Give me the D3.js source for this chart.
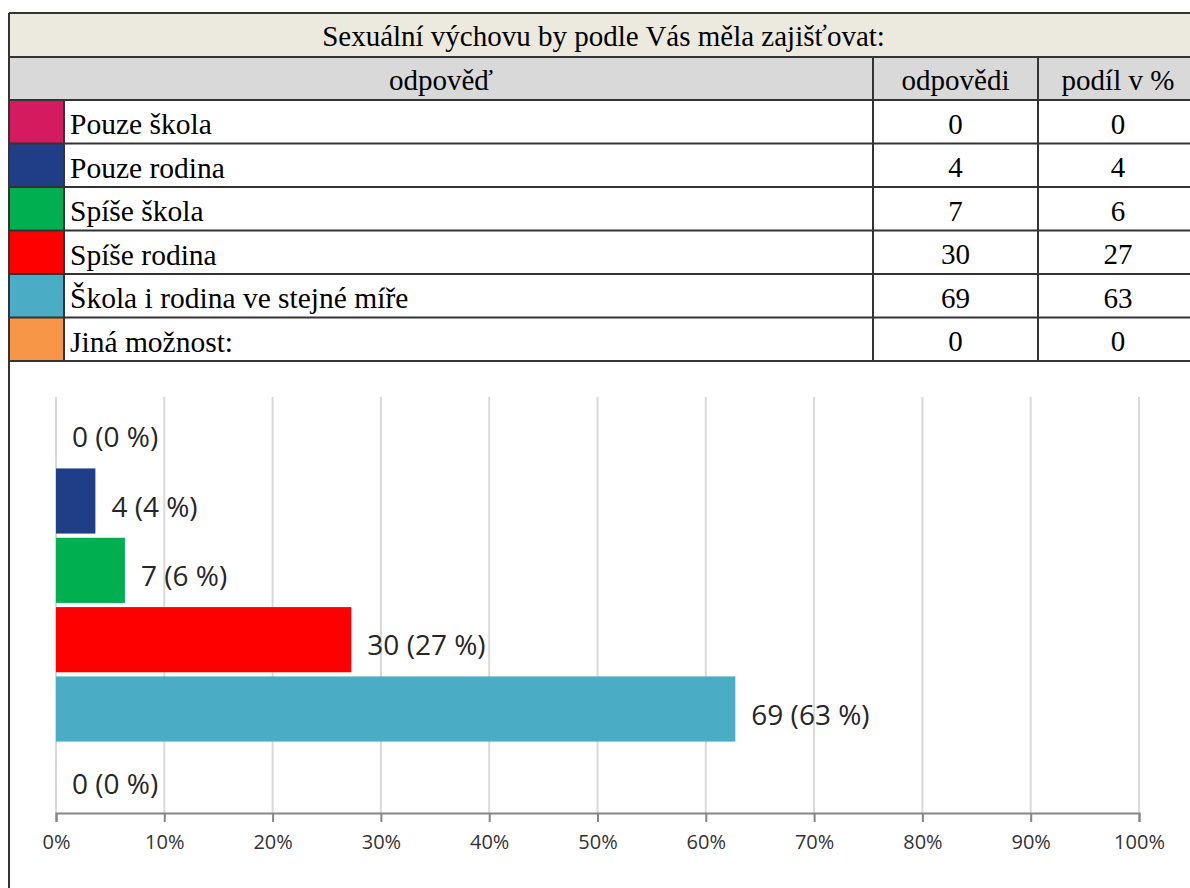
<!DOCTYPE html>
<html>
<head>
<meta charset="utf-8">
<script src="https://cdn.jsdelivr.net/npm/d3@7"></script>
<style>
  body { margin: 0; background: #fff; }
  .cell-text { font-family: "Liberation Serif", "Times New Roman", serif; fill: #000; }
  .lbl { font-family: "Open Sans", sans-serif; fill: #262626; }
  .x-axis text { font-family: "Open Sans", sans-serif; fill: #333; }
</style>
</head>
<body>
<div class="chart"></div>
<script>
// data
var titleText = 'Sexuální výchovu by podle Vás měla zajišťovat:';
var headers = ['odpověď', 'odpovědi', 'podíl v %'];
var categories = ['Pouze škola', 'Pouze rodina', 'Spíše škola', 'Spíše rodina', 'Škola i rodina ve stejné míře', 'Jiná možnost:'];
var colors = ['#D51B5F', '#1F3E87', '#00B050', '#FF0000', '#4BACC6', '#F79646'];
var counts = [0, 4, 7, 30, 69, 0];
var percents = [0, 4, 6, 27, 63, 0];
var xTicks = [0, 0.1, 0.2, 0.3, 0.4, 0.5, 0.6, 0.7, 0.8, 0.9, 1];

var W = 1190, H = 888;
var total = d3.sum(counts);

var rows = categories.map(function(c, i) {
	return {name: c, color: colors[i], count: counts[i], pct: percents[i], share: counts[i] / total};
});

var svg = d3.select('.chart').append('svg')
	.attr('width', W)
	.attr('height', H);

// ---- table ----
var tLeft = 9, tRight = 1198,
	colSwatch = 64, colCount = 873, colPct = 1038,
	titleTop = 13, headTop = 57, bodyTop = 100, bodyBottom = 361;

var rowY = d3.scaleBand()
	.domain(categories)
	.range([bodyTop, bodyBottom]);

var lineColor = '#333';

svg.append('rect')
	.attr('x', tLeft).attr('y', titleTop)
	.attr('width', tRight - tLeft).attr('height', headTop - titleTop)
	.attr('fill', '#ECE9DF');

svg.append('rect')
	.attr('x', tLeft).attr('y', headTop)
	.attr('width', tRight - tLeft).attr('height', bodyTop - headTop)
	.attr('fill', '#D9D9D9');

svg.append('text')
	.attr('class', 'cell-text')
	.attr('x', (tLeft + tRight) / 2)
	.attr('y', (titleTop + headTop) / 2)
	.attr('dy', '0.38em')
	.style('font-size', '29px')
	.style('text-anchor', 'middle')
	.text(titleText);

var headCenters = [(tLeft + colCount) / 2, (colCount + colPct) / 2, (colPct + tRight) / 2];
svg.selectAll('.head')
	.data(headers)
	.enter().append('text')
		.attr('class', 'cell-text head')
		.attr('x', function(d, i) { return headCenters[i]; })
		.attr('y', (headTop + bodyTop) / 2)
		.attr('dy', '0.38em')
		.style('font-size', '29px')
		.style('text-anchor', 'middle')
		.text(function(d) { return d; });

var tRow = svg.selectAll('.trow')
	.data(rows)
	.enter().append('g')
		.attr('class', 'trow')
		.attr('transform', function(d) { return 'translate(0,' + rowY(d.name) + ')'; });

tRow.append('rect')
	.attr('x', tLeft)
	.attr('width', colSwatch - tLeft)
	.attr('height', rowY.bandwidth())
	.attr('fill', function(d) { return d.color; });

tRow.append('text')
	.attr('class', 'cell-text')
	.attr('x', colSwatch + 6)
	.attr('y', rowY.bandwidth() / 2)
	.attr('dy', '0.42em')
	.style('font-size', '29.5px')
	.text(function(d) { return d.name; });

tRow.append('text')
	.attr('class', 'cell-text')
	.attr('x', headCenters[1])
	.attr('y', rowY.bandwidth() / 2)
	.attr('dy', '0.42em')
	.style('font-size', '29px')
	.style('text-anchor', 'middle')
	.text(function(d) { return d.count; });

tRow.append('text')
	.attr('class', 'cell-text')
	.attr('x', headCenters[2])
	.attr('y', rowY.bandwidth() / 2)
	.attr('dy', '0.42em')
	.style('font-size', '29px')
	.style('text-anchor', 'middle')
	.text(function(d) { return d.pct; });

// horizontal rules
var hLines = [titleTop, headTop, bodyTop].concat(categories.map(function(c) { return rowY(c) + rowY.bandwidth(); }));
svg.selectAll('.hline')
	.data(hLines)
	.enter().append('line')
		.attr('x1', tLeft).attr('x2', tRight)
		.attr('y1', function(d) { return d; })
		.attr('y2', function(d) { return d; })
		.attr('stroke', lineColor)
		.attr('stroke-width', 2);

// vertical rules
svg.append('line')
	.attr('x1', tLeft).attr('x2', tLeft)
	.attr('y1', titleTop).attr('y2', H)
	.attr('stroke', lineColor).attr('stroke-width', 2);
svg.append('line')
	.attr('x1', colSwatch).attr('x2', colSwatch)
	.attr('y1', bodyTop).attr('y2', bodyBottom)
	.attr('stroke', lineColor).attr('stroke-width', 2);
[colCount, colPct].forEach(function(xv) {
	svg.append('line')
		.attr('x1', xv).attr('x2', xv)
		.attr('y1', headTop).attr('y2', bodyBottom)
		.attr('stroke', lineColor).attr('stroke-width', 2);
});

// ---- bar chart ----
var plot = {left: 56, right: 1139, top: 397, bottom: 813};

var x = d3.scaleLinear()
	.domain([0, 1])
	.range([plot.left, plot.right]);

var y = d3.scaleBand()
	.domain(categories)
	.range([plot.top, plot.bottom])
	.paddingInner(0.06)
	.paddingOuter(0.03);

svg.append('g').selectAll('line')
	.data(xTicks)
	.enter().append('line')
		.attr('x1', function(d) { return x(d); })
		.attr('x2', function(d) { return x(d); })
		.attr('y1', plot.top)
		.attr('y2', plot.bottom)
		.attr('stroke', '#D9D9D9')
		.attr('stroke-width', 2);

svg.append('g').selectAll('rect')
	.data(rows)
	.enter().append('rect')
		.attr('x', x(0))
		.attr('y', function(d) { return y(d.name); })
		.attr('width', function(d) { return x(d.share) - x(0); })
		.attr('height', y.bandwidth())
		.attr('fill', function(d) { return d.color; });

svg.append('g').selectAll('text')
	.data(rows)
	.enter().append('text')
		.attr('class', 'lbl')
		.attr('x', function(d) { return x(d.share) + 16; })
		.attr('y', function(d) { return y(d.name) + y.bandwidth() / 2 + 6; })
		.attr('dy', '0.35em')
		.style('font-size', '28px')
		.text(function(d) { return d.count + ' (' + d.pct + ' %)'; });

var xAxis = d3.axisBottom(x)
	.tickValues(xTicks)
	.tickFormat(d3.format('.0%'))
	.tickSize(9)
	.tickPadding(13);

var gx = svg.append('g')
	.attr('class', 'x-axis')
	.attr('transform', 'translate(0,' + plot.bottom + ')')
	.call(xAxis);
gx.select('.domain').attr('stroke', '#868686').attr('stroke-width', 2);
gx.selectAll('.tick line').attr('stroke', '#868686').attr('stroke-width', 2);
gx.selectAll('.tick text').style('font-size', '20px');
</script>
</body>
</html>
